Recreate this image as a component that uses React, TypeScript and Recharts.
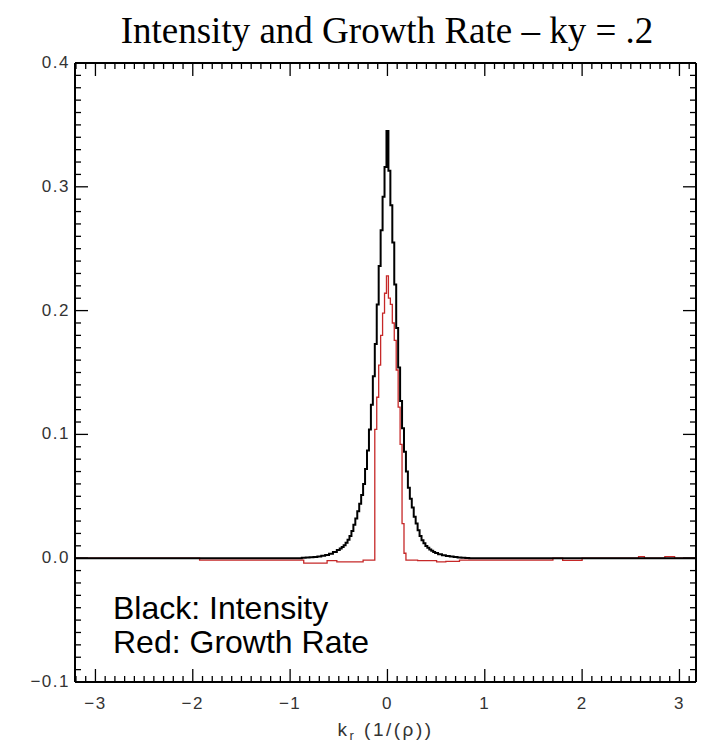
import React from 'react';
import { LineChart, Line, XAxis, YAxis } from 'recharts';

// ---------- text ----------
const TITLE = 'Intensity and Growth Rate – ky = .2';
const X_TITLE_MAIN = 'k';
const X_TITLE_SUB = 'r';
const X_TITLE_REST = ' (1/(ρ))';
const LEGEND_LINES = ['Black: Intensity', 'Red: Growth Rate'];

// ---------- axes ----------
const X_DOMAIN: [number, number] = [-3.21, 3.17];
const Y_DOMAIN: [number, number] = [-0.1, 0.4];
const X_MAJOR = [-3, -2, -1, 0, 1, 2, 3];
const Y_MAJOR = [-0.1, 0.0, 0.1, 0.2, 0.3, 0.4];

// ---------- series: intensity (black) ----------
const blackK = [
  -3.21, -0.94, -0.9, -0.86, -0.82, -0.78, -0.74, -0.7, -0.66, -0.62, -0.58, -0.54,
  -0.5, -0.48, -0.46, -0.44, -0.42, -0.4, -0.38, -0.36, -0.34, -0.32, -0.3, -0.28, -0.26,
  -0.24, -0.22, -0.2, -0.18, -0.16, -0.14, -0.12, -0.1, -0.08, -0.06, -0.04, -0.02,
  0,
  0.02, 0.04, 0.06, 0.08, 0.1, 0.12, 0.14, 0.16, 0.18, 0.2, 0.22, 0.24,
  0.26, 0.28, 0.3, 0.32, 0.34, 0.36, 0.38, 0.4, 0.42, 0.44, 0.46, 0.48, 0.5,
  0.54, 0.58, 0.62, 0.66, 0.7, 0.74, 0.78, 0.82, 0.86, 0.9, 3.17,
];
const blackV = [
  0, 0, 0, 0.0003, 0.0006, 0.0008, 0.001, 0.0014, 0.0019, 0.0026, 0.0035, 0.005,
  0.0067, 0.0078, 0.009, 0.0105, 0.0125, 0.015, 0.018, 0.022, 0.027, 0.032, 0.038, 0.044, 0.051,
  0.06, 0.072, 0.087, 0.104, 0.124, 0.147, 0.173, 0.205, 0.236, 0.265, 0.292, 0.316,
  0.345,
  0.313, 0.285, 0.255, 0.221, 0.186, 0.154, 0.127, 0.105, 0.086, 0.07, 0.057, 0.048,
  0.041, 0.0335, 0.028, 0.0225, 0.018, 0.0146, 0.012, 0.0098, 0.0084, 0.0071, 0.0061, 0.0051, 0.0043,
  0.0032, 0.0024, 0.0018, 0.0013, 0.0009, 0.0006, 0.0003, 0.0001, 0, 0, 0,
];

// ---------- series: growth rate (red) ----------
const redK = [
  -3.21, -1.94, -1.92, -0.87, -0.85, -0.63, -0.61, -0.53, -0.51,
  -0.5, -0.48, -0.46, -0.44, -0.42, -0.4, -0.38, -0.36, -0.34, -0.32, -0.3, -0.28, -0.26,
  -0.24, -0.22, -0.2, -0.18, -0.16, -0.14, -0.12, -0.1, -0.08, -0.06, -0.04, -0.02,
  0,
  0.02, 0.04, 0.06, 0.08, 0.1, 0.12, 0.14, 0.16, 0.18, 0.2, 0.22, 0.24,
  0.26, 0.28, 0.3, 0.32, 0.34, 0.36, 0.38, 0.4, 0.42, 0.44, 0.46, 0.48, 0.5,
  0.51, 0.59, 0.61, 0.73, 0.75, 1.69, 1.71, 1.79, 1.81, 1.99, 2.01, 2.57, 2.59, 2.63,
  2.65, 2.84, 2.86, 2.94, 2.96, 3.17,
];
const redV = [
  0, 0, -0.0015, -0.0015, -0.004, -0.004, -0.002, -0.002, -0.003,
  -0.003, -0.003, -0.003, -0.003, -0.003, -0.003, -0.003, -0.003, -0.003, -0.003, -0.003, -0.003, -0.003,
  -0.0015, -0.0015, -0.0015, -0.0015, -0.0015, -0.0015, 0.104, 0.13, 0.156, 0.18, 0.198, 0.214,
  0.228,
  0.21, 0.205, 0.19, 0.176, 0.152, 0.122, 0.092, 0.028, 0.004, -0.0015, -0.0015, -0.0015,
  -0.0015, -0.0015, -0.0015, -0.002, -0.002, -0.002, -0.002, -0.002, -0.002, -0.002, -0.002, -0.002, -0.002,
  -0.003, -0.003, -0.0025, -0.0025, -0.0015, -0.0015, 0, 0, -0.0018, -0.0018, 0, 0, 0.0012, 0.0012,
  0, 0, 0.0012, 0.0012, 0, 0,
];

const blackData = blackK.map((k, i) => ({ k, v: blackV[i] }));
const redData = redK.map((k, i) => ({ k, v: redV[i] }));

// tick positions: majors plus minor subdivisions (0.1 on x, 0.01 on y)
const xTicks: number[] = [];
for (let i = -32; i <= 31; i++) xTicks.push(i / 10);
const yTicks: number[] = [];
for (let i = -10; i <= 40; i++) yTicks.push(i / 100);

const isMajorX = (v: number) => X_MAJOR.some((m) => Math.abs(m - v) < 1e-6);
const isMajorY = (v: number) => Y_MAJOR.some((m) => Math.abs(m - v) < 1e-6);
const fmtX = (v: number) => (v < 0 ? '\u2212' + Math.abs(Math.round(v)) : String(Math.round(v)));
const fmtY = (v: number) => (v < -1e-9 ? '\u2212' + Math.abs(v).toFixed(1) : Math.abs(v).toFixed(1));

const MAJ = 13;
const MIN = 6;
const TICK_FONT = '"Liberation Sans", Arial, sans-serif';
const TICK_STYLE = { fontFamily: TICK_FONT, fontSize: 17, fill: '#333', letterSpacing: 1.5 };

const BottomTick = (p: any) => {
  const { x, y, payload } = p;
  const major = isMajorX(payload.value);
  return (
    <g>
      <line x1={x} x2={x} y1={y} y2={y - (major ? MAJ : MIN)} stroke="#000" strokeWidth={1.3} />
      {major && (
        <text x={x} y={y + 27} textAnchor="middle" {...TICK_STYLE}>
          {fmtX(payload.value)}
        </text>
      )}
    </g>
  );
};
const TopTick = (p: any) => {
  const { x, y, payload } = p;
  const major = isMajorX(payload.value);
  return <line x1={x} x2={x} y1={y} y2={y + (major ? MAJ : MIN)} stroke="#000" strokeWidth={1.3} />;
};
const LeftTick = (p: any) => {
  const { x, y, payload } = p;
  const major = isMajorY(payload.value);
  return (
    <g>
      <line x1={x} x2={x + (major ? MAJ : MIN)} y1={y} y2={y} stroke="#000" strokeWidth={1.3} />
      {major && (
        <text x={x - 5} y={y + 5} textAnchor="end" {...TICK_STYLE}>
          {fmtY(payload.value)}
        </text>
      )}
    </g>
  );
};
const RightTick = (p: any) => {
  const { x, y, payload } = p;
  const major = isMajorY(payload.value);
  return <line x1={x} x2={x - (major ? MAJ : MIN)} y1={y} y2={y} stroke="#000" strokeWidth={1.3} />;
};

const XTitle = (p: any) => {
  const vb = p.viewBox || {};
  const cx = (vb.x || 0) + (vb.width || 0) / 2;
  const cy = vb.y || 0;
  return (
    <text
      x={cx}
      y={cy + 54}
      textAnchor="middle"
      fontFamily={TICK_FONT}
      fontSize={19}
      fill="#333"
      letterSpacing={2.5}
    >
      {X_TITLE_MAIN}
      <tspan fontSize={13} dy={4}>{X_TITLE_SUB}</tspan>
      <tspan dy={-4}>{X_TITLE_REST}</tspan>
    </text>
  );
};

const AXIS_LINE = { stroke: '#000', strokeWidth: 2 };

export default function App() {
  return (
    <div
      style={{
        position: 'absolute',
        left: 0,
        top: 0,
        width: 702,
        height: 743,
        background: '#fff',
        overflow: 'hidden',
      }}
    >
      <div
        style={{
          position: 'absolute',
          left: 87,
          top: 12,
          width: 600,
          textAlign: 'center',
          whiteSpace: 'nowrap',
          fontFamily: '"Liberation Serif", "Times New Roman", serif',
          fontSize: 37,
          lineHeight: '38px',
          color: '#000',
        }}
      >
        {TITLE}
      </div>
      <LineChart width={702} height={743} margin={{ top: 62, right: 5, bottom: 60, left: 74 }}>
        <XAxis
          xAxisId="b"
          dataKey="k"
          type="number"
          domain={X_DOMAIN}
          allowDataOverflow
          ticks={xTicks}
          interval={0}
          tick={BottomTick}
          tickLine={false}
          tickSize={0}
          tickMargin={0}
          height={1}
          axisLine={AXIS_LINE}
          label={{ content: XTitle }}
        />
        <XAxis
          xAxisId="t"
          orientation="top"
          dataKey="k"
          type="number"
          domain={X_DOMAIN}
          allowDataOverflow
          ticks={xTicks}
          interval={0}
          tick={TopTick}
          tickLine={false}
          tickSize={0}
          tickMargin={0}
          height={1}
          axisLine={AXIS_LINE}
        />
        <YAxis
          yAxisId="l"
          type="number"
          domain={Y_DOMAIN}
          allowDataOverflow
          ticks={yTicks}
          interval={0}
          tick={LeftTick}
          tickLine={false}
          tickSize={0}
          tickMargin={0}
          width={1}
          axisLine={AXIS_LINE}
        />
        <YAxis
          yAxisId="r"
          orientation="right"
          type="number"
          domain={Y_DOMAIN}
          allowDataOverflow
          ticks={yTicks}
          interval={0}
          tick={RightTick}
          tickLine={false}
          tickSize={0}
          tickMargin={0}
          width={1}
          axisLine={AXIS_LINE}
        />
        <Line
          xAxisId="b"
          yAxisId="l"
          data={redData}
          dataKey="v"
          type="step"
          stroke="#c62828"
          strokeWidth={1.3}
          dot={false}
          activeDot={false}
          isAnimationActive={false}
        />
        <Line
          xAxisId="b"
          yAxisId="l"
          data={blackData}
          dataKey="v"
          type="step"
          stroke="#000"
          strokeWidth={2}
          dot={false}
          activeDot={false}
          isAnimationActive={false}
        />
        <Line
          xAxisId="t"
          yAxisId="r"
          data={blackData}
          dataKey="v"
          stroke="none"
          dot={false}
          activeDot={false}
          isAnimationActive={false}
        />
      </LineChart>
      <div
        style={{
          position: 'absolute',
          left: 113,
          top: 591,
          fontFamily: '"Liberation Sans", Arial, sans-serif',
          fontSize: 32,
          lineHeight: '34px',
          color: '#000',
          whiteSpace: 'nowrap',
        }}
      >
        {LEGEND_LINES.map((t) => (
          <div key={t}>{t}</div>
        ))}
      </div>
    </div>
  );
}
